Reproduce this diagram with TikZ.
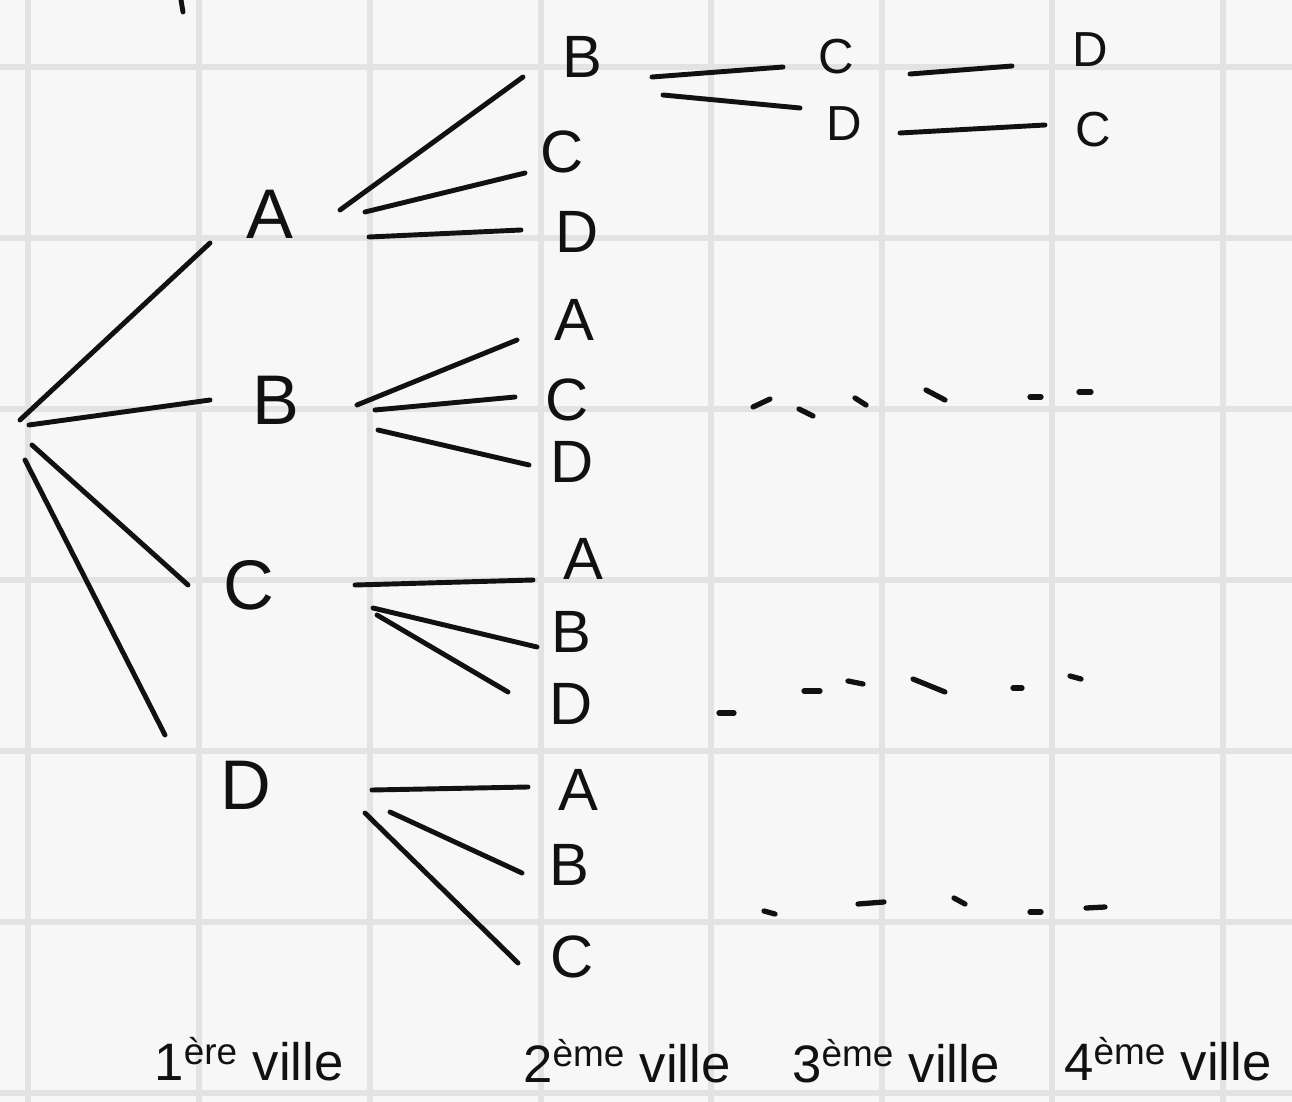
\documentclass[tikz,border=0pt]{standalone}
\usepackage{fontspec}
\setmainfont{Liberation Sans}
\definecolor{paper}{HTML}{F7F7F7}
\definecolor{gridgray}{HTML}{E3E3E3}
\definecolor{ink}{HTML}{111111}
\tikzset{
  firstcity/.style={font=\fontsize{40}{44}\selectfont, text=ink, inner sep=0pt},
  secondcity/.style={font=\fontsize{34}{38}\selectfont, text=ink, inner sep=0pt},
  latercity/.style={font=\fontsize{28}{32}\selectfont, text=ink, inner sep=0pt},
  caption/.style={font=\fontsize{30}{34}\selectfont, text=ink, inner sep=0pt, anchor=base},
  branch/.style={draw=ink, line width=2.8pt, line cap=round},
  trail/.style={draw=ink, line width=3pt, line cap=round},
  paperline/.style={draw=gridgray, line width=0.12cm},
}

\begin{document}
\begin{tikzpicture}[x=0.02cm, y=-0.02cm]
    % Paper
    \fill[paper] (0,0) rectangle (1292,1102);
    \useasboundingbox (0,0) rectangle (1292,1102);
    \foreach \gx in {28,199,370,541,711,882,1052,1223}
        \draw[paperline] (\gx,0) -- (\gx,1102);
    \foreach \gy in {67,238,409,580,751,922,1093}
        \draw[paperline] (0,\gy) -- (1292,\gy);
    \draw[branch] (181,0) -- (183,12);

    % Nodes
    \coordinate (root) at (25,440);
    \node (A1) [firstcity] at (270,214) {A};
    \node (B1) [firstcity] at (276,400) {B};
    \node (C1) [firstcity] at (249,585) {C};
    \node (D1) [firstcity] at (246,785) {D};

    \node (AB) [secondcity] at (582,57) {B};
    \node (AC) [secondcity] at (562,152) {C};
    \node (AD) [secondcity] at (577,232) {D};
    \node (BA) [secondcity] at (574,320) {A};
    \node (BC) [secondcity] at (567,400) {C};
    \node (BD) [secondcity] at (572,462) {D};
    \node (CA) [secondcity] at (583,559) {A};
    \node (CB) [secondcity] at (571,632) {B};
    \node (CD) [secondcity] at (571,704) {D};
    \node (DA) [secondcity] at (578,790) {A};
    \node (DB) [secondcity] at (569,865) {B};
    \node (DC) [secondcity] at (572,957) {C};

    \node (ABC) [latercity] at (836,57) {C};
    \node (ABD) [latercity] at (844,124) {D};
    \node (ABCD) [latercity] at (1090,50) {D};
    \node (ABDC) [latercity] at (1093,130) {C};

    % Branches
    \draw[branch] ([shift={(-5,-20)}]root) -- ([shift={(-60,29)}]A1.center);
    \draw[branch] ([shift={(4,-15)}]root) -- ([shift={(-66,0)}]B1.center);
    \draw[branch] ([shift={(7,5)}]root) -- ([shift={(-61,0)}]C1.center);
    \draw[branch] ([shift={(0,20)}]root) -- ([shift={(-81,-50)}]D1.center);

    \draw[branch] ([shift={(70,-4)}]A1.center) -- ([shift={(-59,20)}]AB.center);
    \draw[branch] ([shift={(95,-2)}]A1.center) -- ([shift={(-37,21)}]AC.center);
    \draw[branch] ([shift={(99,23)}]A1.center) -- ([shift={(-56,-2)}]AD.center);
    \draw[branch] ([shift={(81,5)}]B1.center) -- ([shift={(-57,20)}]BA.center);
    \draw[branch] ([shift={(99,10)}]B1.center) -- ([shift={(-52,-3)}]BC.center);
    \draw[branch] ([shift={(102,30)}]B1.center) -- ([shift={(-43,3)}]BD.center);
    \draw[branch] ([shift={(106,0)}]C1.center) -- ([shift={(-50,21)}]CA.center);
    \draw[branch] ([shift={(124,23)}]C1.center) -- ([shift={(-34,15)}]CB.center);
    \draw[branch] ([shift={(128,30)}]C1.center) -- ([shift={(-63,-12)}]CD.center);
    \draw[branch] ([shift={(126,5)}]D1.center) -- ([shift={(-50,-3)}]DA.center);
    \draw[branch] ([shift={(144,27)}]D1.center) -- ([shift={(-47,8)}]DB.center);
    \draw[branch] ([shift={(119,28)}]D1.center) -- ([shift={(-54,6)}]DC.center);

    \draw[branch] ([shift={(70,20)}]AB.center) -- ([shift={(-53,10)}]ABC.center);
    \draw[branch] ([shift={(81,38)}]AB.center) -- ([shift={(-44,-16)}]ABD.center);
    \draw[branch] ([shift={(74,17)}]ABC.center) -- ([shift={(-78,16)}]ABCD.center);
    \draw[branch] ([shift={(56,9)}]ABD.center) -- ([shift={(-48,-5)}]ABDC.center);

    % Dots for the other branches
    \foreach \xa/\ya/\xb/\yb in {753/407/770/399, 799/409/813/416, 855/398/866/405,
        926/390/945/400, 1030/397/1041/397, 1079/392/1091/392,
        719/713/734/713, 804/691/820/691, 848/681/863/684, 913/679/945/692,
        1013/688/1022/688, 1070/676/1081/679,
        764/911/775/914, 858/904/884/902, 954/898/965/904, 1030/912/1041/912,
        1086/908/1105/907}
        \draw[trail] (\xa,\ya) -- (\xb,\yb);

    % Column captions
    \node (first) [caption] at (249,1080) {1\textsuperscript{ère} ville};
    \node (second) [caption] at (627,1082) {2\textsuperscript{ème} ville};
    \node (third) [caption] at (896,1082) {3\textsuperscript{ème} ville};
    \node (fourth) [caption] at (1168,1080) {4\textsuperscript{ème} ville};
\end{tikzpicture}
\end{document}
